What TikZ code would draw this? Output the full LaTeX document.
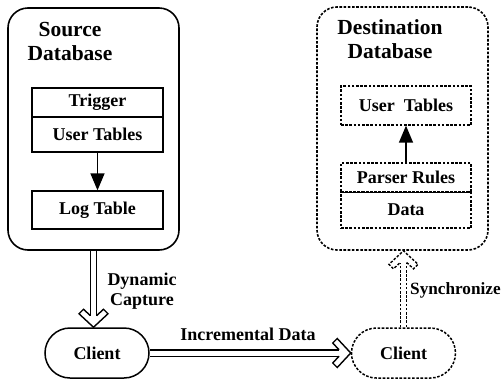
\documentclass[tikz,border=0pt]{standalone}
\usepackage{fontspec}
\setmainfont{Liberation Serif}
\usetikzlibrary{arrows.meta}

\tikzset{
  lbl/.style={font=\bfseries\fontsize{18}{20}\selectfont, inner sep=0pt, align=center},
  ttl/.style={font=\bfseries\fontsize{21.5}{24}\selectfont, inner sep=0pt, align=center},
  dbbox/.style={draw, line width=1.6pt, rounded corners=20pt, inner sep=0pt},
  tbl/.style={draw, line width=1.3pt, inner sep=0pt, font=\bfseries\fontsize{18}{20}\selectfont, minimum width=131pt},
  dsh/.style={dash pattern=on 2.6pt off 1.6pt},
  clientbox/.style={draw, line width=1.5pt, rounded corners=25pt, minimum width=104pt, minimum height=50pt, inner sep=0pt, font=\bfseries\fontsize{18}{20}\selectfont},
  flow/.style={double, line width=1.4pt, double distance=5pt, shorten >=11.7pt},
  inner/.style={line width=1.4pt, -{Triangle[length=17pt,width=14pt]}},
  % hollow chevron head for the double-line flows, tip at the origin, pointing along +x
  hhead/.pic={
    \draw[line width=1.4pt, line join=miter, pic actions]
      (-11.7,3.2) -- (-18,10) -- (-13.5,14.5) -- (0,0) -- (-13.5,-14.5) -- (-18,-10) -- (-11.7,-3.2);
  },
}

\begin{document}
\begin{tikzpicture}[x=1pt,y=-1pt]
\useasboundingbox (0,0) rectangle (504,381);

% source side
\node[dbbox, minimum width=171pt, minimum height=242pt] (src) at (93.5,129) {};
\node[ttl] (srct) at (70,41) {Source\\Database};
\node[tbl, minimum height=29pt] (trig) at (97.5,102.5) {Trigger};
\node[tbl, minimum height=35pt] (usr) at (97.5,134.5) {User Tables};
\node[tbl, minimum height=38pt] (logt) at (97.5,210) {Log Table};
\draw[inner] (usr.south) -- (logt.north);

% destination side
\node[dbbox, dsh, minimum width=171pt, minimum height=243pt] (dst) at (402.5,128.5) {};
\node[ttl] (dstt) at (390,39.5) {Destination\\Database};
\node[tbl, dsh, minimum width=130pt, minimum height=39pt] (dut) at (406,105.5) {User\ \ Tables};
\node[tbl, dsh, minimum width=130pt, minimum height=29pt] (dpr) at (406,177.5) {Parser Rules};
\node[tbl, dsh, minimum width=130pt, minimum height=36pt] (ddat) at (406,210) {Data};
\draw[line width=0.8pt] (dpr.south west) -- (dpr.south east);
\draw[inner] (dpr.north) -- (dut.south);

% clients
\node[clientbox] (c1) at (97,353) {Client};
\node[clientbox, dsh] (c2) at (403.5,353) {Client};

% data flow
\draw[flow] (src.south) -- (src.south |- c1.north);
\pic[rotate=-90] at (src.south |- c1.north) {hhead};
\node[lbl] (cap) at (142,291) {Dynamic\\Capture};

\draw[flow] (c1.east) -- (c2.west);
\pic at (c2.west) {hhead};
\node[lbl, anchor=south] (inc) at (248,341) {Incremental Data};

\draw[flow, dsh] (c2.north) -- (c2.north |- dst.south);
\pic[rotate=90, dsh] at (c2.north |- dst.south) {hhead};
\node[lbl, anchor=west, font=\bfseries\fontsize{17.2}{20}\selectfont] (syn) at (410,290) {Synchronize};
\end{tikzpicture}
\end{document}
